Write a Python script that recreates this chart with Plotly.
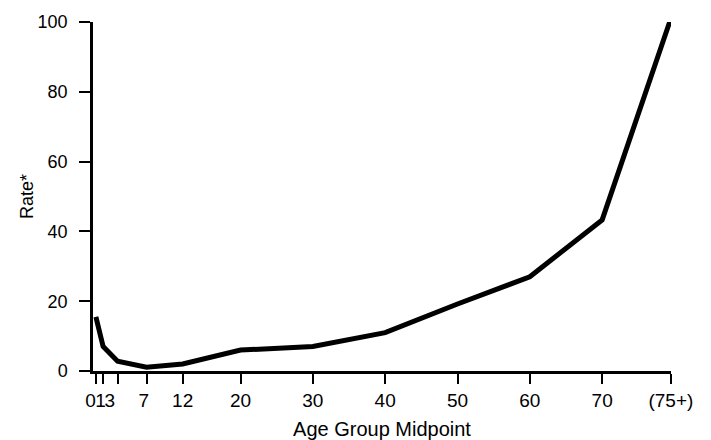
import plotly.graph_objects as go

# Data
age_midpoints = [0, 1, 3, 7, 12, 20, 30, 40, 50, 60, 70, 79.5]
rates = [15.5, 7.0, 2.8, 1.1, 2.0, 6.0, 7.0, 11.0, 19.2, 27.0, 43.3, 101.0]
x_tick_vals = [0, 1, 3, 7, 12, 20, 30, 40, 50, 60, 70, 79.5]
NB = "\u00a0"
x_tick_text = ["0" + NB * 2, "1" + NB, "3" + NB * 3, "7" + NB, "12", "20", "30", "40",
               "50", "60", "70", "(75+)"]
y_tick_vals = [0, 20, 40, 60, 80, 100]

FONT = "Liberation Sans, Arial, sans-serif"

fig = go.Figure()
fig.add_trace(go.Scatter(
    x=age_midpoints, y=rates, mode="lines",
    line=dict(color="black", width=5),
    cliponaxis=False, showlegend=False, hoverinfo="skip",
))

fig.update_layout(
    width=711, height=440,
    margin=dict(l=93, r=40, t=22, b=69),
    paper_bgcolor="white", plot_bgcolor="white",
    font=dict(family=FONT, size=19, color="black"),
    xaxis=dict(
        range=[-0.4, 79.52], tickmode="array", automargin=False,
        tickvals=x_tick_vals, ticktext=x_tick_text, tickangle=0,
        showgrid=False, zeroline=False,
        showline=True, linecolor="black", linewidth=3,
        ticks="outside", ticklen=10, tickwidth=2, tickcolor="black",
        tickfont=dict(family=FONT, size=19, color="black"),
        title=dict(text="Age Group Midpoint", standoff=13,
                   font=dict(family=FONT, size=20, color="black")),
    ),
    yaxis=dict(
        range=[0, 100], tickmode="array", tickvals=y_tick_vals, automargin=False,
        showgrid=False, zeroline=False,
        showline=True, linecolor="black", linewidth=2.5,
        ticks="outside", ticklen=11, tickwidth=2, tickcolor="black",
        ticklabelstandoff=8,
        tickfont=dict(family=FONT, size=18, color="black"),
        title=dict(text="Rate*", standoff=0,
                   font=dict(family=FONT, size=18, color="black")),
    ),
)

fig.write_html(
    "out.html",
    config={"displayModeBar": False},
    post_script="document.body.style.margin='0';document.body.style.padding='0';",
)
